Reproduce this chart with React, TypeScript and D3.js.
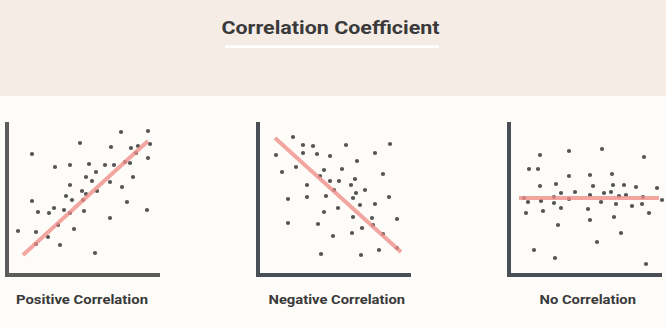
import React from "react";
import * as d3 from "d3";

const W = 666;
const H = 327;

const title = "Correlation Coefficient";
const panelLabels = ["Positive Correlation", "Negative Correlation", "No Correlation"];

// points in data units (0..151 on both axes)
const positivePoints: [number, number][] = [
  [9, 42], [23, 119], [23, 72], [29, 61], [27, 41], [27, 29], [39, 36], [40, 60], [45, 65], [46, 106],
  [51, 28], [49, 48], [55, 63], [57, 77], [61, 108], [61, 88], [63, 73], [61, 60], [65, 44], [71, 130],
  [73, 82], [75, 62], [74, 73], [77, 79], [77, 96], [80, 109], [83, 92], [87, 101], [88, 82], [86, 20],
  [96, 108], [102, 126], [101, 91], [101, 55], [105, 108], [112, 141], [113, 86], [116, 111], [118, 71],
  [122, 125], [121, 110], [124, 96], [127, 120], [129, 127], [139, 142], [141, 129], [139, 115], [138, 63],
];
const negativePoints: [number, number][] = [
  [33, 136], [16, 118], [43, 128], [53, 127], [43, 120], [57, 119], [70, 117], [86, 128], [115, 120], [130, 129],
  [22, 101], [36, 106], [64, 103], [82, 104], [97, 112], [60, 97], [70, 92], [79, 92], [95, 94], [91, 88],
  [47, 88], [74, 83], [96, 80], [105, 83], [28, 74], [47, 76], [66, 77], [93, 75], [100, 68], [115, 69],
  [129, 76], [123, 99], [64, 61], [78, 65], [28, 50], [58, 49], [93, 56], [112, 55], [137, 54], [113, 48],
  [102, 45], [73, 37], [92, 40], [123, 39], [137, 25], [119, 23], [61, 19], [101, 18],
];
const nonePoints: [number, number][] = [
  [29, 118], [58, 122], [91, 124], [133, 116], [18, 104], [27, 104], [58, 97], [79, 98], [101, 99], [29, 87],
  [45, 89], [82, 87], [102, 88], [113, 88], [125, 86], [146, 85], [50, 80], [64, 81], [79, 78], [93, 80],
  [100, 81], [115, 78], [13, 75], [43, 76], [58, 74], [108, 77], [132, 76], [151, 73], [17, 71], [30, 72],
  [43, 70], [90, 71], [105, 69], [121, 67], [131, 69], [15, 60], [32, 62], [50, 65], [77, 64], [138, 60],
  [103, 56], [79, 53], [47, 48], [110, 40], [86, 31], [23, 23], [44, 15], [135, 9],
];

// trend line endpoints
const positiveTrend: [number, number][] = [[14, 18], [139, 132]];
const negativeTrend: [number, number][] = [[15, 135], [141, 21]];
const noneTrend: [number, number][] = [[8, 75], [148, 75]];

const panelPoints = [positivePoints, negativePoints, nonePoints];
const panelTrends = [positiveTrend, negativeTrend, noneTrend];
const panelOriginX = [9, 260, 511];
const axisColors = ["#5c5c5c", "#4a4e57", "#4a4e57"];
const labelX = [16, 268.5, 539.5];
const labelWidth = [132, 136.5, 96.5];

const DOMAIN = 151;
const ORIGIN_Y = 273;
const SIZE = 151;

function Panel({ idx }: { idx: number }) {
  const ox = panelOriginX[idx];
  const x = d3.scaleLinear().domain([0, DOMAIN]).range([ox, ox + SIZE]);
  const y = d3.scaleLinear().domain([0, DOMAIN]).range([ORIGIN_Y, ORIGIN_Y - SIZE]);
  const line = d3
    .line<[number, number]>()
    .x((d) => x(d[0]))
    .y((d) => y(d[1]));
  const axisPath = `M${x(0) - 2},${y(DOMAIN)} L${x(0) - 2},${y(0) + 2} L${x(DOMAIN)},${y(0) + 2}`;
  return (
    <g>
      <path d={axisPath} fill="none" stroke={axisColors[idx]} strokeWidth={4} strokeLinejoin="miter" />
      {panelPoints[idx].map((p, i) => (
        <circle key={i} cx={x(p[0])} cy={y(p[1])} r={2.1} fill="#545454" />
      ))}
      <path
        d={line(panelTrends[idx]) || ""}
        fill="none"
        stroke="#ef8d86"
        strokeOpacity={0.78}
        strokeWidth={4}
      />
      <text
        x={labelX[idx]}
        y={304}
        fontFamily="Roboto, 'Open Sans', sans-serif"
        fontWeight={700}
        fontSize={13}
        textLength={labelWidth[idx]}
        lengthAdjust="spacingAndGlyphs"
        fill="#3a3a3a"
      >
        {panelLabels[idx]}
      </text>
    </g>
  );
}

export default function App() {
  return (
    <svg
      width={W}
      height={H}
      style={{ position: "absolute", left: 0, top: 0, display: "block" }}
    >
      <rect x={0} y={0} width={W} height={H} fill="#fefcf9" />
      <rect x={0} y={0} width={W} height={96} fill="#f5ece6" />
      <text
        x={221.5}
        y={33.5}
        fontFamily="Roboto, 'Open Sans', sans-serif"
        fontWeight={700}
        fontSize={19}
        textLength={218}
        lengthAdjust="spacingAndGlyphs"
        fill="#3a3a3a"
      >
        {title}
      </text>
      <rect x={225} y={45.5} width={214} height={2.5} fill="#ffffff" />
      {[0, 1, 2].map((i) => (
        <Panel key={i} idx={i} />
      ))}
    </svg>
  );
}
